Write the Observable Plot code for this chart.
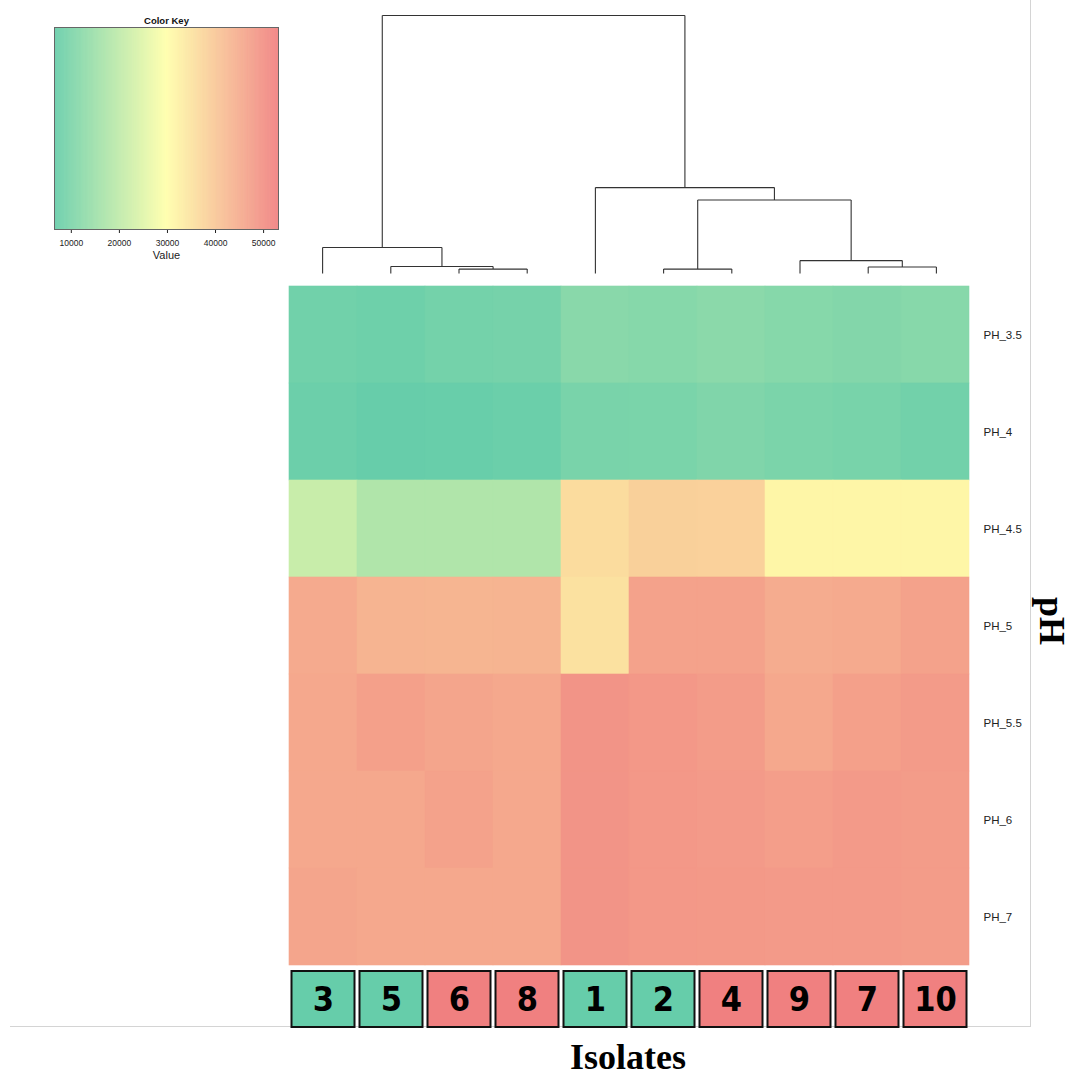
<!DOCTYPE html>
<html>
<head>
<meta charset="utf-8">
<script src="https://cdn.jsdelivr.net/npm/d3@7"></script>
<script src="https://cdn.jsdelivr.net/npm/@observablehq/plot@0.6"></script>
<style>
  html, body { margin: 0; padding: 0; background: #fff; }
  #root { position: relative; width: 1078px; height: 1076px; overflow: hidden; font-family: "Liberation Sans", Arial, sans-serif; }
  #root > div.p { position: absolute; }
  #root svg { background: transparent !important; overflow: visible; }
  #frame { position: absolute; left: 10px; top: 0; width: 1020px; height: 1026px; border-right: 1px solid #d4d4d4; border-bottom: 1px solid #d4d4d4; }
  .big { position: absolute; font-family: "Liberation Serif", "Times New Roman", serif; font-weight: bold; font-size: 36px; color: #000; white-space: nowrap; }
</style>
</head>
<body>
<div id="root">
  <div id="frame"></div>
  <div class="p" id="key" style="left:40px; top:0px;"></div>
  <div class="p" id="dendro" style="left:0px; top:0px;"></div>
  <div class="p" id="heat" style="left:0px; top:285px;"></div>
  <div class="p" id="boxes" style="left:0px; top:966px;"></div>
  <div class="big" id="xlab" style="left:628px; top:1036px; transform: translateX(-50%);">Isolates</div>
  <div class="big" id="ylab" style="left:1052px; top:621px; transform: translate(-50%,-50%) rotate(90deg);">pH</div>
</div>
<script>
// ---- Data (columns in dendrogram order) ----
const isolates = ["3", "5", "6", "8", "1", "2", "4", "9", "7", "10"];
const rows = ["PH_3.5", "PH_4", "PH_4.5", "PH_5", "PH_5.5", "PH_6", "PH_7"];
const ph_3_5 = [8200, 7700, 8600, 8900, 11800, 11400, 12100, 11400, 10900, 11500];
const ph_4   = [7400, 6700, 6800, 7300, 9400, 9600, 10400, 9700, 9200, 8300];
const ph_4_5 = [21400, 17700, 17700, 17800, 36300, 38400, 38300, 31400, 31400, 31400];
const ph_5   = [45400, 43500, 43400, 43600, 35300, 46800, 46800, 45000, 45400, 46800];
const ph_5_5 = [45800, 47300, 46300, 45800, 49400, 48700, 48000, 45800, 47300, 48100];
const ph_6   = [45800, 45800, 46800, 45800, 49400, 48700, 48300, 47600, 48300, 48000];
const ph_7   = [46300, 45800, 45800, 45800, 49400, 48700, 48500, 48300, 48300, 48000];
const isolateGroup = ["G", "G", "R", "R", "G", "G", "R", "R", "R", "R"];
const keyTicks = [10000, 20000, 30000, 40000, 50000];
const keyDomain = [6500, 29800, 53100];
// dendrogram merges: [left, right, height]; "mN" = result of merge N (1-based)
const merges = [
  ["6", "8", 1.7],
  ["7", "10", 2.5],
  ["2", "4", 1.7],
  ["5", "m1", 2.7],
  ["9", "m2", 5.0],
  ["3", "m4", 10.1],
  ["m3", "m5", 28.5],
  ["1", "m7", 33.3],
  ["m6", "m8", 100]
];

// ---- Shared styling ----
const palette = ["#66CDAA", "#FFFFAA", "#F08080"];
const colorScale = {type: "linear", domain: keyDomain, range: palette, interpolate: "rgb"};
const W = 1078, mL = 288, mR = 108;

// ---- Heatmap ----
const valuesByRow = [ph_3_5, ph_4, ph_4_5, ph_5, ph_5_5, ph_6, ph_7];
const cells = rows.flatMap((r, i) => isolates.map((iso, j) => ({row: r, iso, value: valuesByRow[i][j]})));
const heat = Plot.plot({
  width: W, height: 680,
  marginLeft: mL, marginRight: mR, marginTop: 0, marginBottom: 0,
  style: {fontFamily: "Liberation Sans, Arial, sans-serif", fontSize: "11.5px", color: "#222", background: "transparent"},
  x: {domain: isolates, padding: 0, axis: null},
  y: {domain: rows, padding: 0, axis: "right", tickSize: 0, tickPadding: 13, label: null},
  color: colorScale,
  marks: [
    Plot.cell(cells, {x: "iso", y: "row", fill: "value", stroke: "value", strokeWidth: 0.6, inset: 0})
  ]
});
document.getElementById("heat").append(heat);

// ---- Dendrogram ----
const pos = new Map(isolates.map((d, i) => [d, {x: i + 0.5, h: 0}]));
const segs = [];
merges.forEach(([a, b, h], k) => {
  const A = pos.get(a), B = pos.get(b);
  segs.push({x1: A.x, y1: A.h, x2: A.x, y2: h});
  segs.push({x1: B.x, y1: B.h, x2: B.x, y2: h});
  segs.push({x1: A.x, y1: h, x2: B.x, y2: h});
  pos.set("m" + (k + 1), {x: (A.x + B.x) / 2, h});
});
const dendro = Plot.plot({
  width: W, height: 280,
  marginLeft: mL, marginRight: mR, marginTop: 15, marginBottom: 7,
  style: {background: "transparent"},
  x: {domain: [0, isolates.length], axis: null},
  y: {domain: [0, 100], axis: null},
  marks: [
    Plot.link(segs, {x1: "x1", y1: "y1", x2: "x2", y2: "y2", stroke: "#333", strokeWidth: 1.1})
  ]
});
document.getElementById("dendro").append(dendro);

// ---- Isolate boxes ----
const boxData = isolates.map((d, i) => ({iso: d, g: isolateGroup[i]}));
const boxes = Plot.plot({
  width: W, height: 64,
  marginLeft: mL, marginRight: mR, marginTop: 5, marginBottom: 3,
  style: {background: "transparent"},
  x: {domain: isolates, padding: 0, axis: null},
  color: {domain: ["G", "R"], range: ["#66CDAA", "#F08080"]},
  marks: [
    Plot.cell(boxData, {x: "iso", fill: "g", stroke: "#111", strokeWidth: 2, insetLeft: 2.5, insetRight: 2.5}),
    Plot.text(boxData, {x: "iso", text: "iso", frameAnchor: "middle", fill: "#000",
      fontFamily: "Liberation Sans Narrow, DejaVu Sans Condensed, Arial Narrow, sans-serif",
      fontWeight: "bold", fontSize: 34, dy: 1})
  ]
});
document.getElementById("boxes").append(boxes);

// ---- Color key ----
const grad = d3.range(keyDomain[0], keyDomain[2], 100);
const key = Plot.plot({
  width: 260, height: 270,
  marginLeft: 14, marginRight: 22, marginTop: 27, marginBottom: 41,
  style: {fontFamily: "Liberation Sans, Arial, sans-serif", fontSize: "8.5px", color: "#222", background: "transparent"},
  x: {domain: [keyDomain[0], keyDomain[2]], ticks: keyTicks, tickFormat: d3.format("d"), tickSize: 4, tickPadding: 6, label: null},
  y: {domain: [0, 1], axis: null},
  color: colorScale,
  marks: [
    Plot.rect(grad, {x1: d => d, x2: d => Math.min(d + 160, keyDomain[2]), y1: 0, y2: 1, fill: d => d + 50, inset: 0}),
    Plot.frame({stroke: "#666", strokeWidth: 1}),
    Plot.text(["Color Key"], {frameAnchor: "top", dy: -10, fontWeight: "bold", fontSize: 9.5, fill: "#111"}),
    Plot.text(["Value"], {frameAnchor: "bottom", dy: 29, fontSize: 11, fill: "#222"})
  ]
});
document.getElementById("key").append(key);
</script>
</body>
</html>
